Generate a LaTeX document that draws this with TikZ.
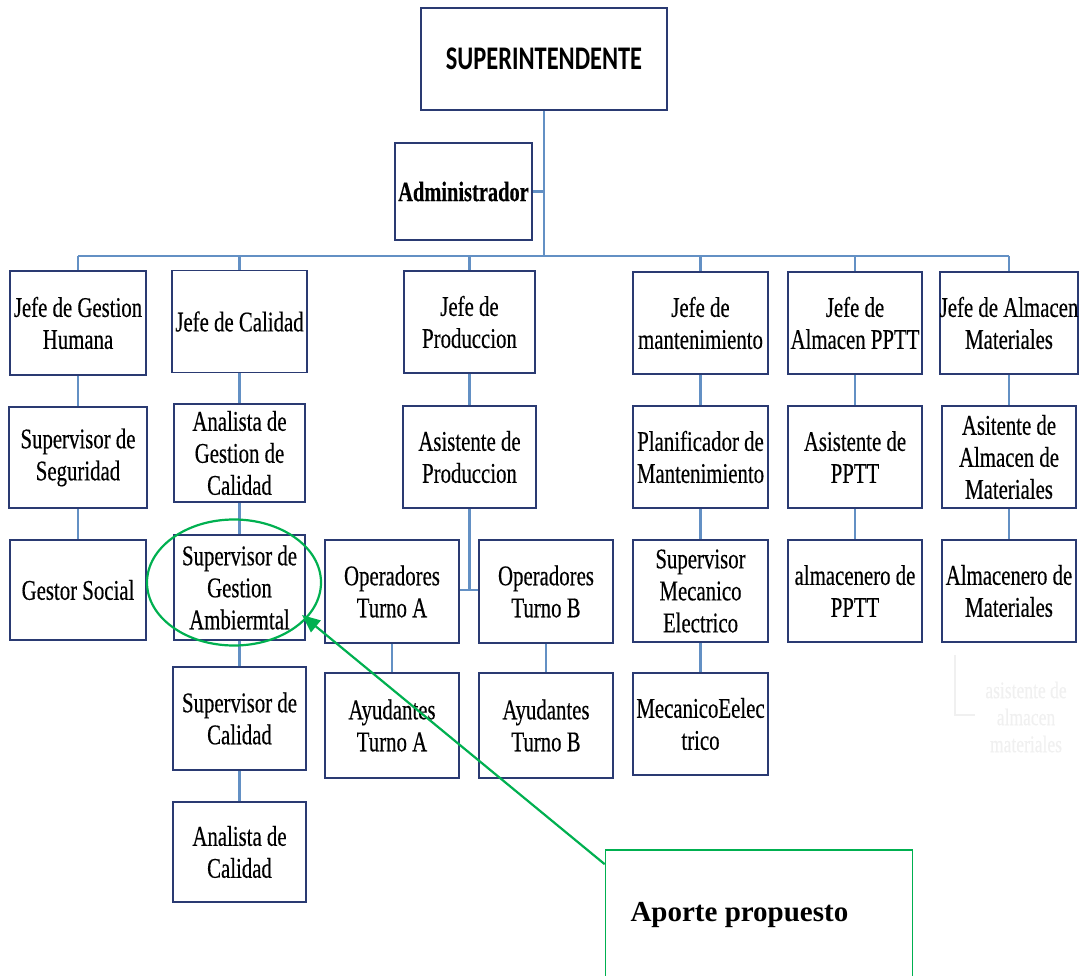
\documentclass[tikz,border=0pt]{standalone}
\usepackage{fontspec}
\usetikzlibrary{arrows.meta,calc}
\setmainfont{Liberation Serif}
\newfontfamily\boxfont[FakeStretch=0.73,FakeBold=0.35]{Liberation Serif}
\newfontfamily\topfont[FakeStretch=0.74]{Carlito}
\definecolor{boxc}{HTML}{2A3A72}
\definecolor{linkc}{HTML}{6390C4}
\definecolor{mark}{HTML}{00B050}
\definecolor{ghost}{HTML}{F0F0F0}
\tikzset{
  org/.style={draw=boxc, line width=1.9pt, fill=white, align=center,
    inner sep=0pt, minimum width=135pt, minimum height=102pt,
    font=\boxfont\fontsize{28.5}{32}\selectfont},
  link/.style={draw=linkc, line width=2.1pt},
  note/.style={draw=mark, line width=2.2pt}
}
\begin{document}
\begin{tikzpicture}[x=1pt,y=-1pt]
\useasboundingbox (0,0) rectangle (1081,976);
\clip (0,0) rectangle (1081,976);

% head of the chart
\node[org, minimum width=246pt, minimum height=102pt,
  font=\topfont\bfseries\fontsize{33}{36}\selectfont] (sup) at (544,59) {SUPERINTENDENTE};
\node[org, minimum width=137pt, minimum height=97pt,
  font=\boxfont\bfseries\fontsize{28}{32}\selectfont] (adm) at (463.5,191.5) {Administrador};

% distribution bus
\coordinate (busL) at (78,256);
\coordinate (busR) at (1009,256);

% first level
\node[org, minimum width=136pt, minimum height=104pt] (jgh) at (78,323) {Jefe de Gestion\\Humana};
\node[org] (jca) at (239.5,321.5) {Jefe de Calidad};
\node[org, minimum width=131pt] (jpr) at (469.5,322) {Jefe de\\Produccion};
\node[org] (jma) at (700.5,323) {Jefe de\\mantenimiento};
\node[org, minimum width=134pt] (jap) at (855,323) {Jefe de\\Almacen PPTT};
\node[org, minimum width=134pt] (jam) at (1009,323) {Jefe de Almacen\\Materiales};

% second level
\node[org, minimum width=138pt, minimum height=101pt] (ssg) at (78,457.5) {Supervisor de\\Seguridad};
\node[org, minimum width=131pt, minimum height=98pt] (agc) at (239.5,453) {Analista de\\Gestion de\\Calidad};
\node[org, minimum width=133pt] (apr) at (469.5,457) {Asistente de\\Produccion};
\node[org] (pma) at (700.5,457) {Planificador de\\Mantenimiento};
\node[org, minimum width=134pt] (asp) at (855,457) {Asistente de\\PPTT};
\node[org, minimum width=134pt] (aam) at (1009,457) {Asitente de\\Almacen de\\Materiales};

% third level
\node[org, minimum width=136pt, minimum height=100pt] (gso) at (78,590) {Gestor Social};
\node[org, minimum width=131pt, minimum height=105pt] (sga) at (239.5,587.5) {Supervisor de\\Gestion\\Ambiermtal};
\node[org, minimum width=134pt, minimum height=103pt] (opa) at (392,591.5) {Operadores\\Turno A};
\node[org, minimum width=134pt, minimum height=103pt] (opb) at (546,591.5) {Operadores\\Turno B};
\node[org] (sme) at (700.5,591) {Supervisor\\Mecanico\\Electrico};
\node[org, minimum width=134pt] (alp) at (855,591) {almacenero de\\PPTT};
\node[org, minimum width=134pt] (alm) at (1009,591) {Almacenero de\\Materiales};

% fourth and fifth level
\node[org, minimum width=133pt, minimum height=103pt] (sca) at (239.5,718.5) {Supervisor de\\Calidad};
\node[org, minimum width=134pt, minimum height=105pt] (aya) at (392,725.5) {Ayudantes\\Turno A};
\node[org, minimum width=134pt, minimum height=105pt] (ayb) at (546,725.5) {Ayudantes\\Turno B};
\node[org] (mee) at (700.5,724) {MecanicoEelec\\trico};
\node[org, minimum width=133pt, minimum height=100pt] (aca) at (239.5,852) {Analista de\\Calidad};

% connectors
\draw[link] (sup.south) -- (sup.south |- busL);
\draw[link] (adm.east) -- (adm.east -| sup.south);
\draw[link] (busL) -- (busR);
\foreach \n in {jgh,jca,jpr,jma,jap,jam}
  \draw[link] (\n.north) -- (\n.north |- busL);
\draw[link] (jgh) -- (ssg);
\draw[link] (ssg) -- (gso);
\draw[link] (jca) -- (agc);
\draw[link] (agc) -- (sga);
\draw[link] (sga) -- (sca);
\draw[link] (sca) -- (aca);
\draw[link] (jpr) -- (apr);
\coordinate (opj) at (469.5,590);
\draw[link] (apr.south) -- (opj);
\draw[link] (opa.east |- opj) -- (opb.west |- opj);
\draw[link] (opa) -- (aya);
\draw[link] (opb) -- (ayb);
\draw[link] (jma) -- (pma);
\draw[link] (pma) -- (sme);
\draw[link] (sme) -- (mee);
\draw[link] (jap) -- (asp);
\draw[link] (asp) -- (alp);
\draw[link] (jam) -- (aam);
\draw[link] (aam) -- (alm);

% faint leftover entry below the materials column
\coordinate (gh1) at (955,655);
\coordinate (gh2) at (975,715);
\draw[ghost, line width=1.2pt] (gh1) |- (gh2);
\node[text=ghost, align=center, font=\boxfont\fontsize{24}{27}\selectfont] (ghtxt) at (1026,717) {asistente de\\almacen\\materiales};

% proposed contribution
\draw[note] (234,582.5) ellipse [x radius=87, y radius=63];
\node[draw=mark, line width=1.6pt, minimum width=307pt, minimum height=140pt, inner sep=0pt] (aporte) at (759,920) {};
\node[anchor=west, font=\bfseries\fontsize{29}{32}\selectfont] (aptxt) at (627,915) {Aporte propuesto};
\coordinate (tip) at (302,615);
\draw[note, -{Triangle[length=18pt,width=15pt]}] ($(aporte.north west)+(0,15)$) -- (tip);
\end{tikzpicture}
\end{document}
